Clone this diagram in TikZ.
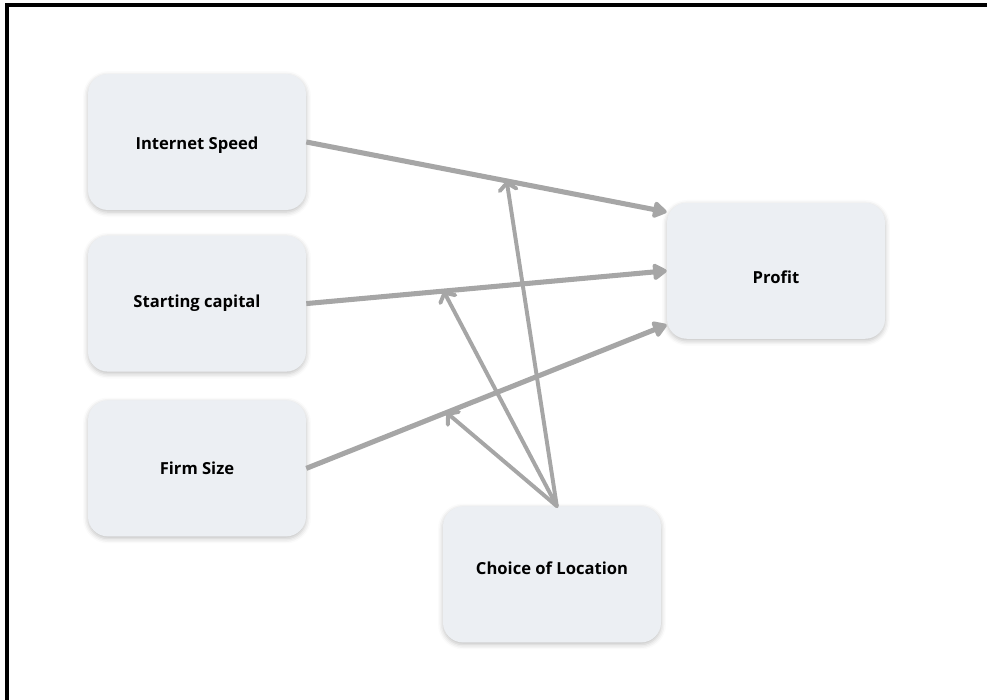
\documentclass[tikz,border=0pt]{standalone}
\usepackage{fontspec}
\setmainfont{Open Sans}
\usepackage{xcolor}
\usepackage{tikz}
\usetikzlibrary{arrows.meta,shadows.blur}

\definecolor{boxfill}{RGB}{236,239,243}
\definecolor{linkgray}{RGB}{166,166,166}

\tikzset{
  box/.style={fill=boxfill, rounded corners=0.5cm, minimum width=5.45cm, minimum height=3.4cm,
    font=\fontsize{11.8}{13}\selectfont\bfseries, text=black,
    blur shadow={shadow xshift=0pt, shadow yshift=-1.5pt, shadow blur radius=3.5pt, shadow opacity=25}},
  link/.style={draw=linkgray, line width=3.6pt, -{Triangle[length=11pt,width=13pt,round]}},
  modlink/.style={draw=linkgray, line width=2.8pt, line cap=round, -{Straight Barb[length=5pt,width=12pt,round]}}
}

\begin{document}
\begin{tikzpicture}
                    \useasboundingbox (0,0) rectangle (24.675,17.5);
                    \draw[line width=2.3pt] (24.675,17.375) -| (0.175,0);

                    \node[box] (Int) at (4.925,13.95) {\raisebox{-0.075cm}[\height][\depth]{Internet Speed}};
                    \node[box] (Cap) at (4.925,9.91) {Starting capital};
                    \node[box] (Firm) at (4.925,5.79) {Firm Size};
                    \node[box] (Prof) at (19.4,10.73) {\raisebox{-0.15cm}[\height][\depth]{Profit}};
                    \node[box] (Loc) at (13.8,3.14) {\raisebox{0.3cm}{Choice of Location}};

                    \draw[link] (Int.east) -- coordinate[pos=0.556] (M1) ([yshift=1.47cm]Prof.west);
                    \draw[link] (Cap.east) -- coordinate[pos=0.381] (M2) (Prof.west);
                    \draw[link] (Firm.east) -- coordinate[pos=0.389] (M3) ([yshift=-1.35cm]Prof.west);

                    \draw[modlink] ([xshift=0.12cm]Loc.north) -- (M1);
                    \draw[modlink] ([xshift=0.12cm]Loc.north) -- (M2);
                    \draw[modlink] ([xshift=0.12cm]Loc.north) -- (M3);
                \end{tikzpicture}
\end{document}
